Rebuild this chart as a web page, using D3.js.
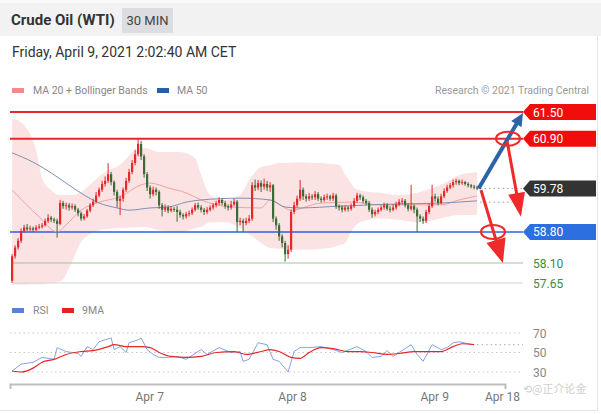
<!DOCTYPE html>
<html><head><meta charset="utf-8">
<script src="https://cdn.jsdelivr.net/npm/d3@7"></script>
<style>body{margin:0;background:#fff;} svg{display:block;font-family:Roboto,"Liberation Sans",Arial,sans-serif;}</style>
</head><body><svg id="c" width="601" height="414"></svg>
<script>
// ---------- DATA ----------
const firstOpen = 57.70;
const closes = [58.25,58.45,58.60,58.82,58.90,58.86,58.88,58.85,58.90,58.92,58.95,59.05,59.12,59.08,59.05,58.98,59.45,59.38,59.40,59.35,
59.38,59.30,59.22,59.10,59.15,59.28,59.40,59.48,59.62,59.75,59.88,59.95,60.10,59.92,59.70,59.50,59.55,59.75,59.95,60.15,
60.35,60.55,60.78,60.50,60.10,59.80,59.65,59.75,59.70,59.40,59.30,59.35,59.28,59.32,59.30,59.25,59.18,59.15,59.20,59.22,
59.30,59.40,59.35,59.30,59.25,59.30,59.35,59.40,59.45,59.52,59.45,59.38,59.35,59.42,59.48,59.02,59.05,59.00,59.05,59.10,
59.85,59.80,59.90,59.82,59.88,59.80,59.85,59.10,58.95,58.70,58.55,58.30,58.40,59.25,59.40,59.55,59.75,59.60,59.55,59.60,
59.58,59.65,59.55,59.52,59.58,59.60,59.55,59.62,59.38,59.35,59.30,59.35,59.32,59.38,59.50,59.62,59.58,59.50,59.45,59.30,
59.20,59.25,59.30,59.35,59.40,59.32,59.30,59.35,59.42,59.48,59.50,59.40,59.32,59.38,59.30,59.15,59.10,59.05,59.25,59.38,
59.60,59.55,59.45,59.60,59.72,59.80,59.85,59.92,59.95,59.90,59.92,59.88,59.85,59.82,59.80,59.78];
const highs = [58.30,58.50,58.66,58.88,58.96,58.98,58.94,58.92,58.95,58.98,59.00,59.10,59.20,59.16,59.12,59.10,59.52,59.50,59.46,59.45,
59.44,59.42,59.34,59.26,59.20,59.32,59.45,59.55,59.70,59.80,59.95,60.05,60.35,60.15,59.96,59.75,59.62,59.80,60.02,60.22,
60.42,60.65,60.91,60.85,60.55,60.15,59.85,59.82,59.80,59.74,59.45,59.42,59.40,59.38,59.36,59.38,59.30,59.22,59.25,59.28,
59.35,59.45,59.46,59.40,59.34,59.36,59.40,59.45,59.50,59.58,59.56,59.50,59.42,59.50,59.55,59.52,59.12,59.10,59.12,59.18,
59.92,59.98,59.97,59.96,60.00,59.95,59.92,59.88,59.15,59.00,58.75,58.60,58.50,59.30,59.48,59.62,59.97,59.80,59.65,59.68,
59.65,59.72,59.70,59.60,59.64,59.66,59.64,59.68,59.66,59.42,59.40,59.40,59.38,59.44,59.56,59.68,59.66,59.62,59.54,59.50,
59.35,59.30,59.35,59.40,59.46,59.45,59.38,59.42,59.48,59.54,59.56,59.54,59.45,59.86,59.42,59.35,59.20,59.15,59.30,59.44,
59.86,59.66,59.60,59.66,59.78,59.86,59.90,59.98,60.00,59.98,59.98,59.95,59.92,59.88,59.86,59.84];
const lows = [57.65,58.20,58.40,58.55,58.78,58.82,58.82,58.80,58.82,58.86,58.88,58.92,59.00,59.02,59.00,58.67,58.95,59.32,59.30,59.28,
59.30,59.25,59.15,59.05,59.06,59.12,59.24,59.36,59.45,59.58,59.70,59.82,59.90,59.85,59.62,59.35,59.18,59.48,59.70,59.90,
60.10,60.30,60.50,60.42,60.02,59.72,59.55,59.60,59.62,59.32,59.15,59.25,59.22,59.24,59.25,59.03,59.12,59.08,59.10,59.15,
59.18,59.26,59.30,59.24,59.18,59.20,59.26,59.30,59.35,59.40,59.40,59.32,59.28,59.30,59.38,58.80,58.95,58.80,58.95,59.00,
59.05,59.72,59.74,59.70,59.75,59.72,59.70,59.02,58.85,58.60,58.45,58.13,58.20,58.35,59.20,59.35,59.50,59.52,59.48,59.50,
59.52,59.52,59.50,59.46,59.48,59.52,59.50,59.50,59.32,59.28,59.24,59.26,59.26,59.28,59.34,59.46,59.52,59.45,59.40,59.25,
59.12,59.15,59.20,59.26,59.30,59.28,59.24,59.26,59.30,59.38,59.42,59.35,59.26,59.28,59.22,58.80,59.02,58.98,59.00,59.20,
59.34,59.48,59.40,59.42,59.56,59.68,59.76,59.80,59.86,59.85,59.86,59.84,59.80,59.78,59.76,59.74];

// Bollinger bands (candle index, upper, lower)
const bandIdx   = [0,4,8,10,13,16,20,23,26,29,31,36,41,44,49,56,61,63,66,71,76,79,83,86,89,93,96,99,103,106,109,111,113,114,116,123,129,136,143,149,155];
const bandUpper = [61.36,61.20,60.64,60.01,59.74,59.63,59.63,59.70,59.86,60.05,60.15,60.31,60.64,60.69,60.60,60.60,60.46,60.08,59.63,59.52,59.63,59.97,60.26,60.30,60.35,60.36,60.37,60.36,60.35,60.33,60.31,60.08,59.90,59.79,59.74,59.68,59.63,59.70,59.86,60.08,60.15];
const bandLower = [57.61,57.61,57.62,57.63,57.65,57.68,58.13,58.58,58.75,58.84,58.86,58.89,58.90,58.91,58.84,58.80,58.88,58.91,59.02,59.02,58.89,58.75,58.55,58.44,58.42,58.40,58.40,58.40,58.42,58.44,58.50,58.55,58.80,58.90,59.02,59.11,59.07,59.02,59.11,59.18,59.18];
// MA20
const ma20Idx = [0,9,15,18,23,29,36,43,46,52,58,63,73,83,86,93,103,113,123,133,143,149,155];
const ma20Val = [59.74,59.14,58.80,58.96,59.29,59.47,59.59,59.86,59.90,59.79,59.68,59.52,59.36,59.34,59.52,59.29,59.45,59.47,59.41,59.41,59.41,59.52,59.61];
// MA50
const ma50Idx = [0,7,13,18,24,29,35,39,46,52,58,63,76,86,91,96,109,129,143,155];
const ma50Val = [60.58,60.37,60.13,59.90,59.63,59.45,59.34,59.29,59.34,59.36,59.47,59.52,59.56,59.52,59.36,59.34,59.38,59.43,59.45,59.50];

// RSI & 9MA
const rsiIdx = [0,3,7,10,14,15,18,22,23,25,27,29,33,34,36,38,39,42,43,45,47,49,52,55,58,63,65,69,73,76,77,79,82,85,87,89,92,94,96,99,103,107,110,115,118,120,123,125,127,129,133,135,137,140,143,145,147,149,152,154];
const rsiVal = [31,38,40,45,43,55,51,49,46,56,53,61,65,53,56,50,60,63,65,53,48,45,45,46,43,53,48,55,50,51,41,43,60,58,43,41,30,51,55,55,56,53,50,56,51,45,46,52,46,50,58,48,41,58,53,55,60,61,59,58];
const maRsiIdx = [0,3,7,10,14,18,23,27,32,34,38,43,46,49,53,58,63,68,74,78,83,86,89,93,96,99,103,107,112,116,120,125,129,134,138,143,147,150,154];
const maRsiVal = [31,30,34,40,43,48,51,52,56,58,56,56,55,50,46,45,46,50,51,48,51,53,51,45,44,50,55,54,51,51,50,48,49,51,51,51,56,59,58];

// Levels
const levelValues = [61.50, 60.90, 59.78, 58.80, 58.10, 57.65];
const levelLabels = ["61.50","60.90","59.78","58.80","58.10","57.65"];
const rsiLevels = [70, 50, 30];
const currentRsi = 58;
const ma50Last = 59.47;

// X axis ticks (candle index positions)
const xTickIdx = [45.7, 93.3, 140.7, 163.3];
const xTickLabels = ["Apr 7", "Apr 8", "Apr 9", "Apr 18"];

// Scenario annotations (candle index, price)
const blueArrow = {from:[155.5, 59.78], to:[170.3, 61.48]};
const redArrows = [{from:[165.0, 60.84], to:[169.6, 59.14]}, {from:[156.3, 59.74], to:[163.6, 58.10]}];
const ellipses = [[165.3, 60.90], [160.3, 58.80]];

// ---------- DRAW ----------
const svg = d3.select("#c");
const C = {red:"#e8262b", green:"#3c6b37", tagRed:"#f20d0d", blue:"#2c6fe0", dark:"#333333"};

const x = d3.scaleLinear().domain([-0.7, 164.3]).range([10, 505]);
const y = d3.scaleLinear().domain([57.65, 61.50]).range([283, 112]);
const yR = d3.scaleLinear().domain([30, 70]).range([372, 333]);

// header
svg.append("rect").attr("x",0).attr("y",0).attr("width",601).attr("height",36).attr("fill","#f2f2f2");
svg.append("rect").attr("x",0).attr("y",0).attr("width",601).attr("height",3).attr("fill","#fafafa");
svg.append("text").attr("x",11).attr("y",25).attr("font-size",15).attr("font-weight","bold").attr("fill","#333").text("Crude Oil (WTI)");
svg.append("rect").attr("x",122).attr("y",8).attr("width",51).attr("height",25).attr("fill","#dcdde0");
svg.append("text").attr("x",147.5).attr("y",25).attr("font-size",13).attr("text-anchor","middle").attr("fill","#444").text("30 MIN");
svg.append("text").attr("x",12).attr("y",57).attr("font-size",14).attr("fill","#333").text("Friday, April 9, 2021 2:02:40 AM CET");

// borders
svg.append("line").attr("x1",597.5).attr("x2",597.5).attr("y1",36).attr("y2",411).attr("stroke","#e4e4e4");
svg.append("line").attr("x1",0).attr("x2",598).attr("y1",410.5).attr("y2",410.5).attr("stroke","#e4e4e4");

// legend
const lg = svg.append("g").attr("font-size",10.5).attr("fill","#888");
lg.append("rect").attr("x",12).attr("y",88).attr("width",12).attr("height",5).attr("fill","#f28a8a");
lg.append("text").attr("x",33).attr("y",94).text("MA 20 + Bollinger Bands");
lg.append("rect").attr("x",157).attr("y",88).attr("width",12).attr("height",5).attr("fill","#2b5ca8");
lg.append("text").attr("x",177).attr("y",94).text("MA 50");
lg.append("text").attr("x",589).attr("y",94).attr("text-anchor","end").attr("fill","#999").text("Research \u00A9 2021 Trading Central");

// bollinger band
const bandData = bandIdx.map((d,i)=>({i:d,u:bandUpper[i],l:bandLower[i]}));
svg.append("path").datum(bandData)
  .attr("d", d3.area().x(d=>x(d.i)).y0(d=>y(d.l)).y1(d=>y(d.u)).curve(d3.curveMonotoneX))
  .attr("fill","#fbd9d9").attr("opacity",0.75);

// level lines
const levelStyle = [
  {stroke:C.red, w:2, tag:C.tagRed, text:"#fff"},
  {stroke:C.red, w:2, tag:C.tagRed, text:"#fff"},
  {stroke:null, w:0, tag:C.dark, text:"#fff"},
  {stroke:"#2f5fe0", w:1.5, tag:C.blue, text:"#fff"},
  {stroke:"#9cc59c", w:1, tag:null, text:"#3d8b3d"},
  {stroke:"#cfd8cf", w:1, tag:null, text:"#3d8b3d"}
];
levelValues.forEach((v,k)=>{
  const s = levelStyle[k];
  const yy = y(v);
  if (s.stroke) svg.append("line").attr("x1", k>=4?13:10).attr("x2",523).attr("y1",yy).attr("y2",yy)
     .attr("stroke",s.stroke).attr("stroke-width",s.w);
});

// MA lines
const ma20 = ma20Idx.map((d,i)=>[d, ma20Val[i]]);
const ma50 = ma50Idx.map((d,i)=>[d, ma50Val[i]]);
const ln = d3.line().x(d=>x(d[0])).y(d=>y(d[1])).curve(d3.curveMonotoneX);
svg.append("path").datum(ma20).attr("d",ln).attr("fill","none").attr("stroke","#f0a2a2").attr("stroke-width",1);
svg.append("path").datum(ma50).attr("d",ln).attr("fill","none").attr("stroke","#7f8fb3").attr("stroke-width",1);

// candles
const candles = closes.map((c,i)=>({i, o: i===0?firstOpen:closes[i-1], c, h:highs[i], l:lows[i]}));
const cg = svg.append("g");
cg.selectAll("line").data(candles).join("line")
  .attr("x1",d=>x(d.i)).attr("x2",d=>x(d.i)).attr("y1",d=>y(d.h)).attr("y2",d=>y(d.l))
  .attr("stroke",d=>d.c>=d.o?C.red:C.green).attr("stroke-width",1);
cg.selectAll("rect").data(candles).join("rect")
  .attr("x",d=>x(d.i)-1.1).attr("width",2.2)
  .attr("y",d=>y(Math.max(d.o,d.c))).attr("height",d=>Math.max(1,Math.abs(y(d.o)-y(d.c))))
  .attr("fill",d=>d.c>=d.o?C.red:C.green);

// dotted projections
svg.append("line").attr("x1",x(156)).attr("x2",523).attr("y1",y(levelValues[2])).attr("y2",y(levelValues[2]))
  .attr("stroke","#999").attr("stroke-dasharray","1.5,3");
svg.append("line").attr("x1",x(156)).attr("x2",512).attr("y1",y(ma50Last)).attr("y2",y(ma50Last))
  .attr("stroke","#999").attr("stroke-dasharray","1.5,3");

// tags and labels
levelValues.forEach((v,k)=>{
  const s = levelStyle[k]; const yy = y(v);
  if (s.tag) {
    const x0 = 523;
    svg.append("path").attr("d",`M${x0},${yy}L${x0+7},${yy-8}L596,${yy-8}L596,${yy+8}L${x0+7},${yy+8}Z`).attr("fill",s.tag);
  }
  svg.append("text").attr("x",533).attr("y",yy+4.5).attr("font-size",12).attr("fill",s.text).text(levelLabels[k]);
});

// arrows
function arrow(p1,p2,color,sw,hl,hw){
  const x1=x(p1[0]), y1=y(p1[1]), x2=x(p2[0]), y2=y(p2[1]);
  const dx=x2-x1, dy=y2-y1, L=Math.hypot(dx,dy), ux=dx/L, uy=dy/L, nx=-uy, ny=ux;
  const bx=x2-ux*hl, by=y2-uy*hl;
  svg.append("line").attr("x1",x1).attr("y1",y1).attr("x2",bx+ux*1).attr("y2",by+uy*1).attr("stroke",color).attr("stroke-width",sw);
  svg.append("path").attr("d",`M${x2},${y2}L${bx+nx*hw/2},${by+ny*hw/2}L${bx-nx*hw/2},${by-ny*hw/2}Z`).attr("fill",color);
}
arrow(blueArrow.from, blueArrow.to, "#2d64a8", 4, 13, 12);
arrow(redArrows[0].from, redArrows[0].to, "#ee2a2a", 3, 24, 17);
arrow(redArrows[1].from, redArrows[1].to, "#ee2a2a", 3, 24, 20);
ellipses.forEach(e=>{
  svg.append("ellipse").attr("cx",x(e[0])).attr("cy",y(e[1])).attr("rx",12).attr("ry",7)
    .attr("fill","none").attr("stroke","#ee2a2a").attr("stroke-width",2);
});

// RSI legend
const rl = svg.append("g").attr("font-size",10.5).attr("fill","#888");
rl.append("rect").attr("x",12).attr("y",308).attr("width",12).attr("height",5).attr("fill","#5b80d8");
rl.append("text").attr("x",33).attr("y",314).text("RSI");
rl.append("rect").attr("x",62).attr("y",308).attr("width",12).attr("height",5).attr("fill","#e82020");
rl.append("text").attr("x",82).attr("y",314).text("9MA");

// RSI grid
rsiLevels.forEach(v=>{
  svg.append("line").attr("x1",10).attr("x2",523).attr("y1",yR(v)).attr("y2",yR(v))
    .attr("stroke","#c8c8c8").attr("stroke-dasharray","1.5,3");
  svg.append("text").attr("x",533).attr("y",yR(v)+4.5).attr("font-size",12).attr("fill","#888").text(v);
});
svg.append("line").attr("x1",x(155)).attr("x2",523).attr("y1",yR(currentRsi)).attr("y2",yR(currentRsi))
  .attr("stroke","#aaa").attr("stroke-dasharray","1.5,3");

const lnR = d3.line().x(d=>x(d[0])).y(d=>yR(d[1]));
svg.append("path").datum(rsiIdx.map((d,i)=>[d,rsiVal[i]])).attr("d",lnR).attr("fill","none").attr("stroke","#86a2e6").attr("stroke-width",1);
svg.append("path").datum(maRsiIdx.map((d,i)=>[d,maRsiVal[i]])).attr("d",lnR.curve(d3.curveMonotoneX)).attr("fill","none").attr("stroke","#e82525").attr("stroke-width",1.2);

// x axis
const ax = svg.append("g").attr("transform","translate(0,384)")
  .call(d3.axisBottom(x).tickValues(xTickIdx).tickFormat((d,i)=>xTickLabels[i]).tickSizeInner(0).tickSizeOuter(5).tickPadding(8));
ax.select(".domain").attr("stroke","#bdbdbd").attr("stroke-width",2);
ax.selectAll("text").attr("font-size",12).attr("fill","#777").attr("font-family","Roboto, Arial, sans-serif");

// watermark
svg.append("text").attr("x",523).attr("y",393).attr("font-size",11).attr("fill","#cfcfcf")
  .attr("font-family","'Noto Sans CJK SC', sans-serif").text("\u27F2@正介论金");
</script></body></html>
